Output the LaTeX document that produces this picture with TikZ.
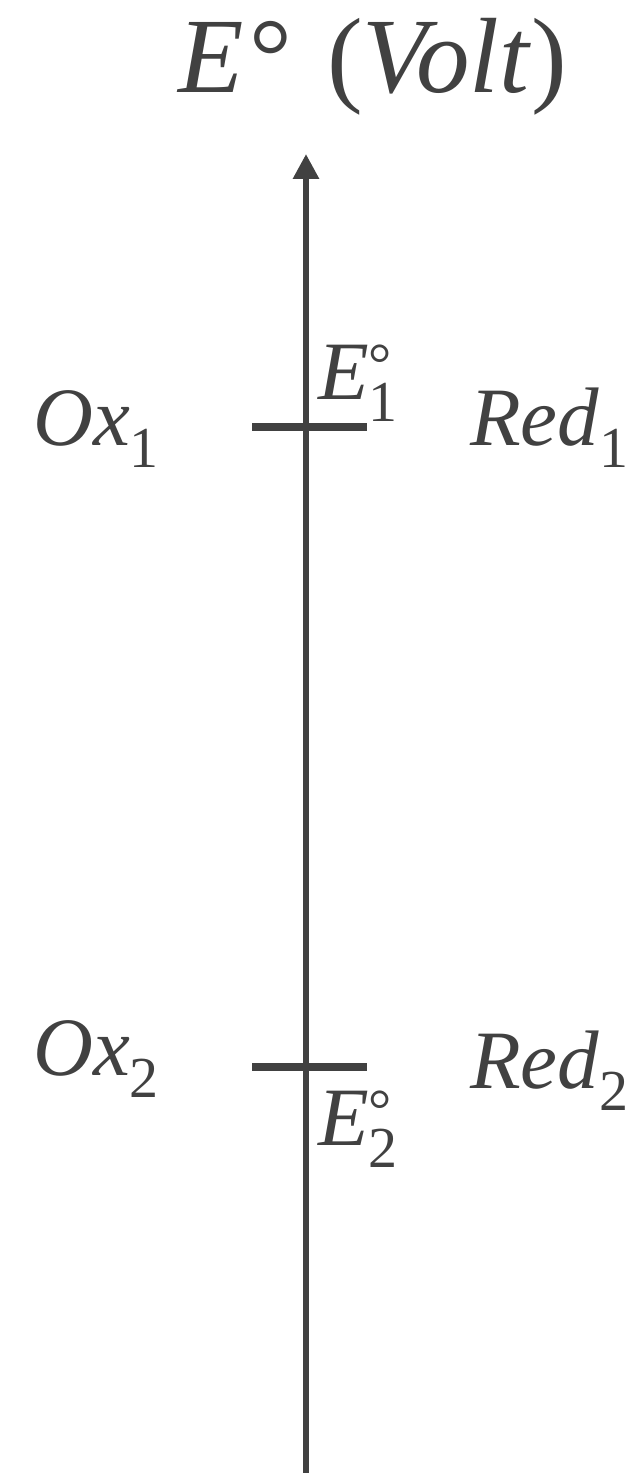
\documentclass[tikz,border=0pt]{standalone}
\usepackage{fontspec}
\setmainfont{Liberation Serif}[ItalicFont={Liberation Serif Italic}]
\definecolor{AxGray}{HTML}{414141}
\usetikzlibrary{positioning,arrows.meta}
\newcommand{\subsz}{\fontsize{58bp}{60bp}\selectfont}
\newcommand{\spec}[2]{\textit{#1}\raisebox{-22bp}{\subsz #2}}
\newcommand{\pot}[1]{\textit{E}\rlap{\raisebox{16bp}{\subsz °}}\raisebox{-22bp}{\subsz #1}}

\begin{document}
\begin{tikzpicture}[x=1bp, y=-1bp, font=\fontsize{83bp}{90bp}\selectfont, text=AxGray,
    lbl/.style={inner sep=0pt, anchor=base west},
    tickbar/.style={fill=AxGray, inner sep=0pt, minimum width=115bp, minimum height=8bp},
    axisline/.style={line width=6bp, AxGray, -{Triangle[length=25bp,width=25bp]}}]
  \useasboundingbox (0,0) rectangle (631,1473);
  % potential axis
  \coordinate (bot) at (306,1473);
  \coordinate (top) at (306,154);
  \draw[axisline] (bot) -- (top);
  \node[lbl, font=\fontsize{107bp}{110bp}\selectfont] (title) at (178,93) {\textit{E}\hspace{6bp}°\hspace{8bp} (\textit{Volt\/})};
  % couple 1
  \node[tickbar] (k1) at (309.5,427) {};
  \node[lbl] (e1) at (318,399) {\pot{1}};
  \node[lbl] (ox1) at (33,445) {\spec{Ox}{1}};
  \node[lbl] (red1) at (470,445) {\spec{Red}{1}};
  % couple 2
  \node[tickbar] (k2) at (309.5,1067) {};
  \node[lbl] (e2) at (318,1145) {\pot{2}};
  \node[lbl] (ox2) at (33,1075) {\spec{Ox}{2}};
  \node[lbl] (red2) at (470,1088) {\spec{Red}{2}};
\end{tikzpicture}
\end{document}
